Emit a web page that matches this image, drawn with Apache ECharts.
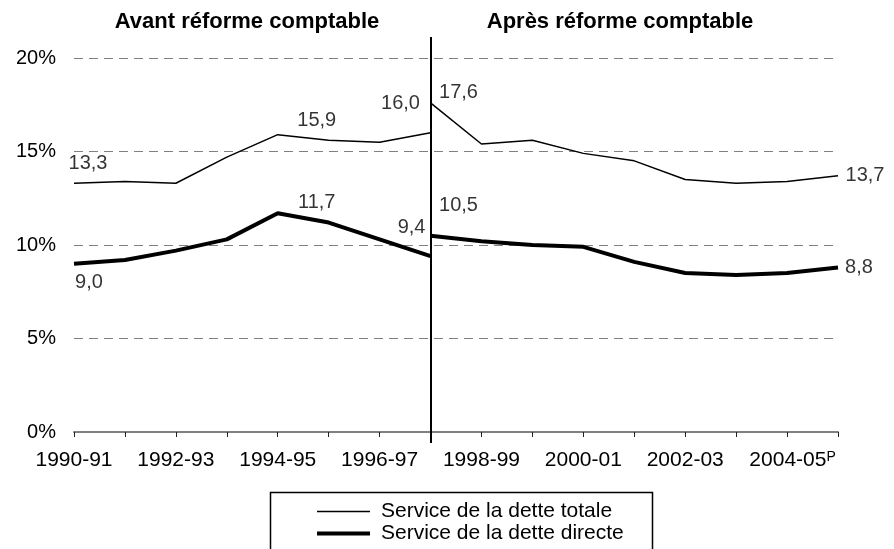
<!DOCTYPE html>
<html>
<head>
<meta charset="utf-8">
<script src="https://cdn.jsdelivr.net/npm/echarts@6/dist/echarts.min.js"></script>
<style>
  html, body { margin: 0; padding: 0; background: #fff; }
  #chart { width: 894px; height: 549px; }
</style>
</head>
<body>
<div id="chart"></div>
<script>
// Fiscal years on the category axis
const categories = [
  '1990-91', '1991-92', '1992-93', '1993-94', '1994-95', '1995-96', '1996-97', '1997-98',
  '1998-99', '1999-00', '2000-01', '2001-02', '2002-03', '2003-04', '2004-05', '2005-06'
];
// Year of the accounting reform (both series restart here)
const reformeIndex = 7;

// Service de la dette totale (% des revenus)
const totaleAvant = [13.3, 13.4, 13.3, 14.7, 15.9, 15.6, 15.5, 16.0];
const totaleApres = [17.6, 15.4, 15.6, 14.9, 14.5, 13.5, 13.3, 13.4, 13.7];

// Service de la dette directe (% des revenus)
const directeAvant = [9.0, 9.2, 9.7, 10.3, 11.7, 11.2, 10.3, 9.4];
const directeApres = [10.5, 10.2, 10.0, 9.9, 9.1, 8.5, 8.4, 8.5, 8.8];

const nomTotale = 'Service de la dette totale';
const nomDirecte = 'Service de la dette directe';
const titreAvant = 'Avant réforme comptable';
const titreApres = 'Après réforme comptable';
const preliminaire = '2004-05';

const FONT = '"Liberation Sans", Arial, Helvetica, sans-serif';
const TRAIT_FIN = 1.5;
const TRAIT_EPAIS = 4;

// Place a segment on the full category range, padding the rest with nulls
function avant(values) {
  return categories.map((c, i) => (i < values.length ? values[i] : null));
}
function apres(values) {
  return categories.map((c, i) => (i >= reformeIndex ? values[i - reformeIndex] : null));
}

// Which values get a printed label, and where the label sits around the point
const sources = { totaleAvant, totaleApres, directeAvant, directeApres };
const annotations = [
  { src: 'totaleAvant', i: 0, off: [14, -20] },
  { src: 'totaleAvant', i: 4, off: [39, -14] },
  { src: 'totaleAvant', i: 7, off: [-30, -29] },
  { src: 'totaleApres', i: 0, off: [28, -10] },
  { src: 'totaleApres', i: 8, off: [27, 0] },
  { src: 'directeAvant', i: 0, off: [15, 19] },
  { src: 'directeAvant', i: 4, off: [39, -11] },
  { src: 'directeAvant', i: 7, off: [-19, -29] },
  { src: 'directeApres', i: 0, off: [28, -30] },
  { src: 'directeApres', i: 8, off: [21, 0] }
];
const labelData = annotations.map(a => {
  const base = a.src.endsWith('Apres') ? reformeIndex : 0;
  return {
    value: [base + a.i, sources[a.src][a.i]],
    label: { offset: a.off }
  };
});

function ligne(name, data, width) {
  return {
    name: name,
    type: 'line',
    data: data,
    symbol: 'none',
    connectNulls: false,
    lineStyle: { color: '#000', width: width },
    itemStyle: { color: '#000' },
    silent: true,
    z: 3
  };
}

const chart = echarts.init(document.getElementById('chart'), null, { renderer: 'canvas' });

chart.setOption({
  animation: false,
  backgroundColor: '#fff',
  textStyle: { fontFamily: FONT },
  grid: { left: 74, right: 56, top: 58, bottom: 117, containLabel: false },
  legend: {
    data: [
      { name: nomTotale, lineStyle: { color: '#000', width: TRAIT_FIN } },
      { name: nomDirecte, lineStyle: { color: '#000', width: TRAIT_EPAIS } }
    ],
    orient: 'vertical',
    left: 270,
    top: 492,
    padding: [9, 22, 0, 45],
    itemWidth: 53,
    itemHeight: 14,
    itemGap: 1,
    itemStyle: { opacity: 0 },
    selectedMode: false,
    textStyle: { color: '#000', fontSize: 21, fontFamily: FONT, lineHeight: 21, padding: [0, 0, 0, 6] }
  },
  xAxis: {
    type: 'category',
    data: categories,
    boundaryGap: false,
    axisLine: { show: true, lineStyle: { color: '#808080', width: 2 } },
    axisTick: { show: true, interval: 0, length: 5, lineStyle: { color: '#202020', width: 1 } },
    axisLabel: {
      interval: 1,
      margin: 18,
      color: '#000',
      fontSize: 21,
      fontFamily: FONT,
      formatter: v => (v === preliminaire ? '{b|' + v + '}{p|P}' : v),
      rich: {
        b: { fontSize: 21, fontFamily: FONT, color: '#000', padding: [0, 0, 0, 11] },
        p: { fontSize: 14, fontFamily: FONT, color: '#000', verticalAlign: 'top', lineHeight: 14 }
      }
    },
    splitLine: { show: false }
  },
  yAxis: {
    type: 'value',
    min: 0,
    max: 20,
    interval: 5,
    axisLine: { show: false },
    axisTick: { show: false },
    axisLabel: { formatter: '{value}%', color: '#000', fontSize: 20, fontFamily: FONT, margin: 18 },
    splitLine: { show: true, lineStyle: { color: '#808080', width: 1, type: [9, 6] } }
  },
  series: [
    ligne(nomTotale, avant(totaleAvant), TRAIT_FIN),
    ligne(nomTotale, apres(totaleApres), TRAIT_FIN),
    ligne(nomDirecte, avant(directeAvant), TRAIT_EPAIS),
    ligne(nomDirecte, apres(directeApres), TRAIT_EPAIS),
    {
      name: 'valeurs',
      type: 'scatter',
      data: labelData,
      symbolSize: 0,
      silent: true,
      z: 5,
      label: {
        show: true,
        position: 'inside',
        color: '#000',
        fontSize: 20,
        fontFamily: FONT,
        formatter: p => p.value[1].toFixed(1).replace('.', ',')
      }
    }
  ]
});

// Reform separator, section headings and the legend frame
const xReforme = Math.round(chart.convertToPixel({ xAxisIndex: 0 }, reformeIndex));
const yHaut = chart.convertToPixel({ yAxisIndex: 0 }, 20);
const yBas = chart.convertToPixel({ yAxisIndex: 0 }, 0);
chart.setOption({
  graphic: [
    {
      type: 'line',
      silent: true,
      z: 10,
      shape: { x1: xReforme, y1: yHaut - 21, x2: xReforme, y2: yBas + 11 },
      style: { stroke: '#000', lineWidth: 2 }
    },
    {
      type: 'rect',
      silent: true,
      z: 1,
      shape: { x: 270.5, y: 492.5, width: 382, height: 80 },
      style: { fill: 'none', stroke: '#000', lineWidth: 1.5 }
    },
    {
      type: 'text',
      silent: true,
      x: 247,
      y: 22,
      style: {
        text: titreAvant, fill: '#000', align: 'center', verticalAlign: 'middle',
        font: 'bold 22px ' + FONT
      }
    },
    {
      type: 'text',
      silent: true,
      x: 620,
      y: 22,
      style: {
        text: titreApres, fill: '#000', align: 'center', verticalAlign: 'middle',
        font: 'bold 22px ' + FONT
      }
    }
  ]
});
</script>
</body>
</html>
